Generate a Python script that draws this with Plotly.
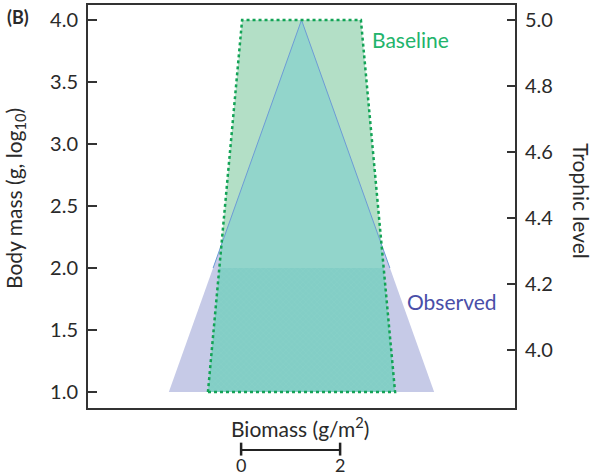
import plotly.graph_objects as go
import numpy as np

# ---- data ----
body_mass_levels = [1.0, 2.0, 4.0]          # log10 g
baseline_width = [3.78, 3.32, 2.40]         # total biomass width (g/m2) at each level
observed_width = [5.36, 3.57, 0.0]          # total biomass width (g/m2)
split_level = 2.0
trophic_ticks = [4.0, 4.2, 4.4, 4.6, 4.8, 5.0]
left_ticks = [1.0, 1.5, 2.0, 2.5, 3.0, 3.5, 4.0]
scale_bar = [0, 2]

y_lo, y_hi = body_mass_levels[0], body_mass_levels[-1]
def hw_base(y):
    return np.interp(y, body_mass_levels, baseline_width) / 2
def hw_obs(y):
    return np.interp(y, body_mass_levels, observed_width) / 2

ys = np.linspace(y_lo, y_hi, 3001)
diff = hw_obs(ys) - hw_base(ys)
yc = ys[np.argmax(diff < 0)]

def poly(yvals, hwfun):
    yv = list(yvals)
    xs = [-hwfun(y) for y in yv] + [hwfun(y) for y in yv[::-1]]
    ysl = yv + yv[::-1]
    return xs + [xs[0]], ysl + [ysl[0]]

def minhw(y):
    return min(hw_base(y), hw_obs(y))

LAV = "#c6cae7"
GREEN_FILL = "#b3dfc6"
TEAL = "#92d5cb"
TEAL_LOW = "#83cec6"
GREEN_LINE = "#13a356"
BLUE_LINE = "#6d9bd6"
FONT = "Lato"
TXT = "#2a2a2a"

fig = go.Figure()

x, y = poly([y_lo, y_hi], hw_obs)
fig.add_trace(go.Scatter(x=x, y=y, fill="toself", fillcolor=LAV, mode="lines",
                         line=dict(width=0), hoverinfo="skip", showlegend=False))
x, y = poly([y_lo, y_hi], hw_base)
fig.add_trace(go.Scatter(x=x, y=y, fill="toself", fillcolor=GREEN_FILL, mode="lines",
                         line=dict(width=0), hoverinfo="skip", showlegend=False))
x, y = poly([y_lo, split_level], minhw)
fig.add_trace(go.Scatter(x=x, y=y, fill="toself", fillcolor=TEAL_LOW, mode="lines",
                         line=dict(width=0), hoverinfo="skip", showlegend=False,
                         fillpattern=dict(shape="x", size=4, solidity=0.15,
                                          fgcolor="#9ad9d0", bgcolor=TEAL_LOW)))
x, y = poly([split_level, yc, y_hi], minhw)
fig.add_trace(go.Scatter(x=x, y=y, fill="toself", fillcolor=TEAL, mode="lines",
                         line=dict(width=0), hoverinfo="skip", showlegend=False))
fig.add_trace(go.Scatter(x=[-hw_obs(split_level), 0, hw_obs(split_level)],
                         y=[split_level, y_hi, split_level], mode="lines",
                         line=dict(color=BLUE_LINE, width=1), hoverinfo="skip", showlegend=False))
x, y = poly([y_lo, y_hi], hw_base)
fig.add_trace(go.Scatter(x=x, y=y, mode="lines",
                         line=dict(color=GREEN_LINE, width=2.5, dash="dot"),
                         hoverinfo="skip", showlegend=False))
fig.add_trace(go.Scatter(x=[0], y=[4.5], yaxis="y2", mode="markers",
                         marker=dict(opacity=0), hoverinfo="skip", showlegend=False))

xr = 4.313
fig.update_layout(
    width=596, height=476,
    margin=dict(l=88, r=81, t=5, b=68, autoexpand=False),
    plot_bgcolor="white", paper_bgcolor="white",
    font=dict(family=FONT, color=TXT, size=20),
    xaxis=dict(range=[-xr, xr], showticklabels=False, ticks="", showgrid=False,
               zeroline=False, showline=True, linecolor="#333", linewidth=2, mirror=True),
    yaxis=dict(range=[0.871, 4.121], tickvals=left_ticks,
               ticktext=[f"{v:.1f}" for v in left_ticks],
               ticks="inside", ticklen=9, tickwidth=2, tickcolor="#333",
               showgrid=False, zeroline=False, showline=True, linecolor="#333",
               linewidth=2, ticklabelstandoff=4,
               tickfont=dict(family=FONT, size=20, color=TXT)),
    yaxis2=dict(range=[3.824, 5.045], overlaying="y", side="right",
                tickvals=trophic_ticks, ticktext=[f"{v:.1f}" for v in trophic_ticks],
                ticks="inside", ticklen=8, tickwidth=2, tickcolor="#333",
                showgrid=False, zeroline=False, showline=True, linecolor="#333",
                linewidth=2, ticklabelstandoff=4,
                tickfont=dict(family=FONT, size=20, color=TXT)),
)

ann = []
ann.append(dict(text="<b>(B)</b>", xref="paper", yref="paper", x=-0.194, y=0.970,
                xanchor="left", yanchor="middle", showarrow=False,
                font=dict(family=FONT, size=18, color=TXT)))
ann.append(dict(text="Body mass (g, log<sub>10</sub>)", xref="paper", yref="paper",
                x=-0.171, y=0.521, xanchor="center", yanchor="middle", textangle=-90,
                showarrow=False, font=dict(family=FONT, size=21, color=TXT)))
ann.append(dict(text="Trophic level", xref="paper", yref="paper",
                x=1.157, y=0.513, xanchor="center", yanchor="middle", textangle=90,
                showarrow=False, font=dict(family=FONT, size=21, color=TXT)))
ann.append(dict(text="Baseline", x=hw_base(y_hi) + 0.18, y=3.84, xanchor="left",
                yanchor="middle", showarrow=False,
                font=dict(family=FONT, size=21, color="#22b46c")))
ann.append(dict(text="Observed", x=2.09, y=1.73, xanchor="left",
                yanchor="middle", showarrow=False,
                font=dict(family=FONT, size=21, color="#4a4fa8")))
ann.append(dict(text="Biomass (g/m<sup>2</sup>)", xref="paper", yref="paper",
                x=0.497, y=-0.047, xanchor="center", yanchor="middle", showarrow=False,
                font=dict(family=FONT, size=21, color=TXT)))

sb0 = -1.22
ybar = -0.104
shapes = [
    dict(type="line", xref="x", yref="paper", x0=sb0 + scale_bar[0], x1=sb0 + scale_bar[1],
         y0=ybar, y1=ybar, line=dict(color="#222", width=2)),
    dict(type="line", xref="x", yref="paper", x0=sb0 + scale_bar[0], x1=sb0 + scale_bar[0],
         y0=ybar - 0.014, y1=ybar + 0.018, line=dict(color="#222", width=2.5)),
    dict(type="line", xref="x", yref="paper", x0=sb0 + scale_bar[1], x1=sb0 + scale_bar[1],
         y0=ybar - 0.014, y1=ybar + 0.018, line=dict(color="#222", width=2.5)),
]
for v in scale_bar:
    ann.append(dict(text=str(v), xref="x", yref="paper", x=sb0 + v, y=ybar - 0.037,
                    xanchor="center", yanchor="middle", showarrow=False,
                    font=dict(family=FONT, size=18, color=TXT)))

fig.update_layout(annotations=ann, shapes=shapes)
fig.write_html("out.html", config={"displayModeBar": False},
               post_script="document.body.style.margin='0';document.body.style.padding='0';")
